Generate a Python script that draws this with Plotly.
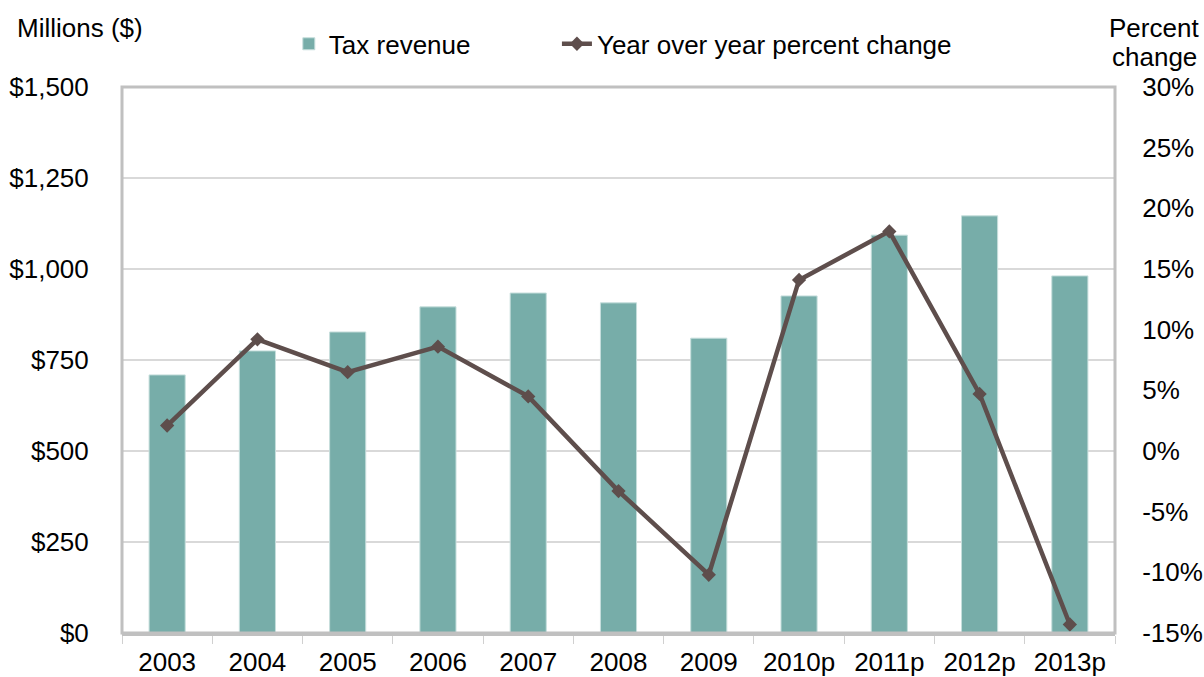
import plotly.graph_objects as go

years = ["2003", "2004", "2005", "2006", "2007", "2008", "2009", "2010p", "2011p", "2012p", "2013p"]
tax_revenue = [709, 775, 827, 896, 934, 907, 810, 926, 1093, 1146, 981]
pct_change = [2.1, 9.2, 6.5, 8.6, 4.5, -3.3, -10.2, 14.1, 18.1, 4.7, -14.3]

left_ticks = [0, 250, 500, 750, 1000, 1250, 1500]
left_labels = ["$0", "$250", "$500", "$750", "$1,000", "$1,250", "$1,500"]
right_ticks = [-15, -10, -5, 0, 5, 10, 15, 20, 25, 30]
right_labels = ["-15%", "-10%", "-5%", "0%", "5%", "10%", "15%", "20%", "25%", "30%"]

FONT = "Liberation Sans, Arial, sans-serif"
FS = 26

fig = go.Figure()
fig.add_trace(go.Bar(
    x=years, y=tax_revenue, name="Tax revenue",
    marker=dict(color="#77ADA9", line=dict(color="#C6DEDC", width=1)),
    width=0.4, yaxis="y", legend="legend",
))
fig.add_trace(go.Scatter(
    x=years, y=pct_change, name="Year over year percent change",
    mode="lines+markers",
    line=dict(color="#5E4E4C", width=4.5),
    marker=dict(symbol="diamond", size=11, color="#5E4E4C"),
    yaxis="y2", legend="legend2",
))

legend_common = dict(
    orientation="h", yanchor="middle", y=1.079, xanchor="left",
    font=dict(family=FONT, size=FS), bgcolor="rgba(0,0,0,0)",
)

fig.update_layout(
    width=1204, height=677,
    margin=dict(l=122, r=89, t=87, b=44, autoexpand=False),
    paper_bgcolor="white", plot_bgcolor="white",
    font=dict(family=FONT, size=FS, color="black"),
    xaxis=dict(
        type="category", range=[-0.5, len(years) - 0.5],
        showgrid=False, automargin=False,
        showline=True, linecolor="#C0C0C0", linewidth=3,
        ticks="outside", tickson="boundaries", ticklen=8, tickcolor="#D0D0D0", tickwidth=1,
        ticklabelstandoff=4,
        tickfont=dict(family=FONT, size=FS),
    ),
    yaxis=dict(
        range=[0, 1500], tickvals=left_ticks, ticktext=left_labels,
        showgrid=True, gridcolor="#D9D9D9", gridwidth=2, automargin=False,
        zeroline=False, showline=False,
        ticks="outside", ticklen=27, tickcolor="rgba(0,0,0,0)",
        tickfont=dict(family=FONT, size=FS),
    ),
    yaxis2=dict(
        range=[-15, 30], tickvals=right_ticks, ticktext=right_labels,
        overlaying="y", side="right", showgrid=False, zeroline=False, showline=False,
        automargin=False,
        ticks="outside", ticklen=21, tickcolor="rgba(0,0,0,0)",
        tickfont=dict(family=FONT, size=FS),
    ),
    legend=dict(x=0.168, **legend_common),
    legend2=dict(x=0.438, **legend_common),
    showlegend=True,
    shapes=[dict(
        type="rect", xref="paper", yref="paper", x0=0, x1=1, y0=0, y1=1,
        line=dict(color="#C0C0C0", width=3), layer="above",
    )],
    annotations=[
        dict(text="Millions ($)", xref="paper", yref="paper", x=-0.108, y=1.108,
             xanchor="left", yanchor="middle", showarrow=False,
             font=dict(family=FONT, size=FS)),
        dict(text="Percent", xref="paper", yref="paper", x=1.0393, y=1.108,
             xanchor="center", yanchor="middle", showarrow=False,
             font=dict(family=FONT, size=FS)),
        dict(text="change", xref="paper", yref="paper", x=1.0393, y=1.055,
             xanchor="center", yanchor="middle", showarrow=False,
             font=dict(family=FONT, size=FS)),
    ],
)

fig.write_html(
    "out.html",
    config={"displayModeBar": False},
    post_script="document.body.style.margin='0';document.body.style.overflow='hidden';",
)
